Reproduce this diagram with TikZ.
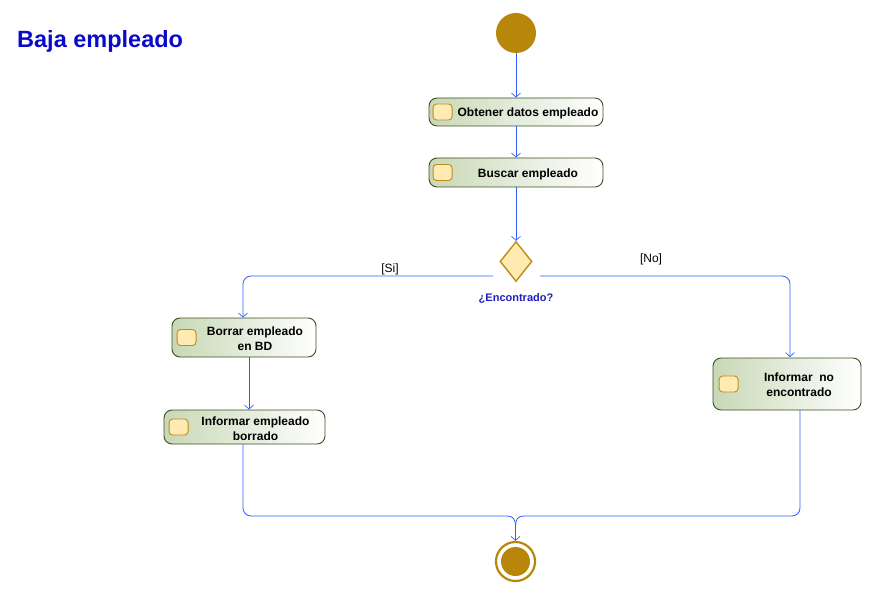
\documentclass[tikz,border=0pt]{standalone}
\usepackage{fontspec}
\setmainfont{Liberation Sans}
\usetikzlibrary{shapes.geometric,arrows.meta,calc}
\definecolor{flowblue}{RGB}{45,95,255}
\definecolor{gold}{RGB}{184,134,11}
\definecolor{golddark}{RGB}{190,140,25}
\definecolor{iconfill}{RGB}{255,234,178}
\definecolor{boxedge}{RGB}{62,78,30}
\definecolor{boxleft}{RGB}{200,216,182}
\definecolor{titleblue}{RGB}{10,10,200}
\definecolor{guardblue}{RGB}{30,30,190}
\tikzset{
  actbox/.style={draw=boxedge, line width=0.9pt, rounded corners=8pt, left color=boxleft, right color=white, shading angle=90, inner sep=0pt},
  acticon/.style={draw=golddark, line width=0.9pt, fill=iconfill, rounded corners=3.5pt, minimum width=19pt, minimum height=16pt, inner sep=0pt},
  acttext/.style={font=\fontsize{12}{15}\selectfont\bfseries, align=center, inner sep=0pt},
  flow/.style={draw=flowblue, line width=0.8pt},
  arr/.style={flow, -{Straight Barb[length=4pt,width=9pt,line width=0.7pt]}},
  guard/.style={font=\fontsize{12}{14}\selectfont, inner sep=0pt},
}
\begin{document}
\begin{tikzpicture}[x=1pt,y=-1pt]
\useasboundingbox (0,0) rectangle (873,596);
% title
\node[anchor=west, font=\fontsize{23.5}{26}\selectfont\bfseries, text=titleblue, inner sep=0pt] (title) at (17,41.5) {Baja empleado};
% initial
\node[circle, fill=gold, minimum size=40pt, inner sep=0pt] (init) at (516,33) {};
% actions
\node[actbox, minimum width=174pt, minimum height=28pt] (a1) at (516,112) {};
\node[acticon] (i1) at ($(a1.west)+(14,0)$) {};
\node[acttext] (t1) at ($(a1.center)+(12,1.5)$) {Obtener datos empleado};
\node[actbox, minimum width=174pt, minimum height=29pt] (a2) at (516,172.5) {};
\node[acticon] (i2) at ($(a2.west)+(14,0)$) {};
\node[acttext] (t2) at ($(a2.center)+(12,1.5)$) {Buscar empleado};
% decision
\node[diamond, draw=golddark, line width=1.4pt, fill=iconfill, minimum width=32pt, minimum height=40pt, inner sep=0pt] (dia) at (516,261.5) {};
\node[font=\fontsize{11}{13}\selectfont\bfseries, text=guardblue, inner sep=0pt] (dlab) at (516,298) {¿Encontrado?};
% left branch
\node[actbox, minimum width=144pt, minimum height=39pt] (a3) at (244,337.5) {};
\node[acticon] (i3) at ($(a3.west)+(15,0)$) {};
\node[acttext] (t3) at ($(a3.center)+(11,1.5)$) {Borrar empleado\\en BD};
\node[actbox, minimum width=161pt, minimum height=34pt] (a4) at (244.5,427) {};
\node[acticon] (i4) at ($(a4.west)+(15,0)$) {};
\node[acttext] (t4) at ($(a4.center)+(11,1.5)$) {Informar empleado\\borrado};
% right branch
\node[actbox, minimum width=148pt, minimum height=52pt] (a5) at (787,384) {};
\node[acticon] (i5) at ($(a5.west)+(16,0)$) {};
\node[acttext] (t5) at ($(a5.center)+(12,0.5)$) {Informar\ \ no\\encontrado};
% final
\node[circle, draw=gold, line width=2.2pt, minimum size=39pt, inner sep=0pt] (fin) at (515.5,561.5) {};
\node[circle, fill=gold, minimum size=29pt, inner sep=0pt] (finin) at (fin.center) {};
% guards
\node[guard] (gsi) at (390,269) {[Si]};
\node[guard] (gno) at (651,259) {[No]};
% coordinates
\coordinate (dl) at (493,276);
\coordinate (dr) at (540,276);
\coordinate (mg) at (515.5,526);
% connectors
\draw[arr] (init.south) -- (a1.north);
\draw[arr] (a1.south) -- (a2.north);
\draw[arr] (a2.south) -- (dia.north);
\draw[arr, rounded corners=8pt] (dl) -| ($(a3.north)+(-1,0)$);
\draw[arr, rounded corners=8pt] (dr) -| (790,357);
\draw[arr] ($(a3.south)+(5,0)$) -- ($(a4.north)+(4.5,0)$);
\draw[flow, rounded corners=8pt] ($(a4.south)+(-1.5,0)$) |- (507,516);
\draw[flow] (507,516) .. controls (513,516) and (515.5,519) .. (mg);
\draw[flow, rounded corners=8pt] (800,410) |- (524,516);
\draw[flow] (524,516) .. controls (518,516) and (515.5,519) .. (mg);
\draw[arr] (mg) -- (fin.north);
\end{tikzpicture}
\end{document}
